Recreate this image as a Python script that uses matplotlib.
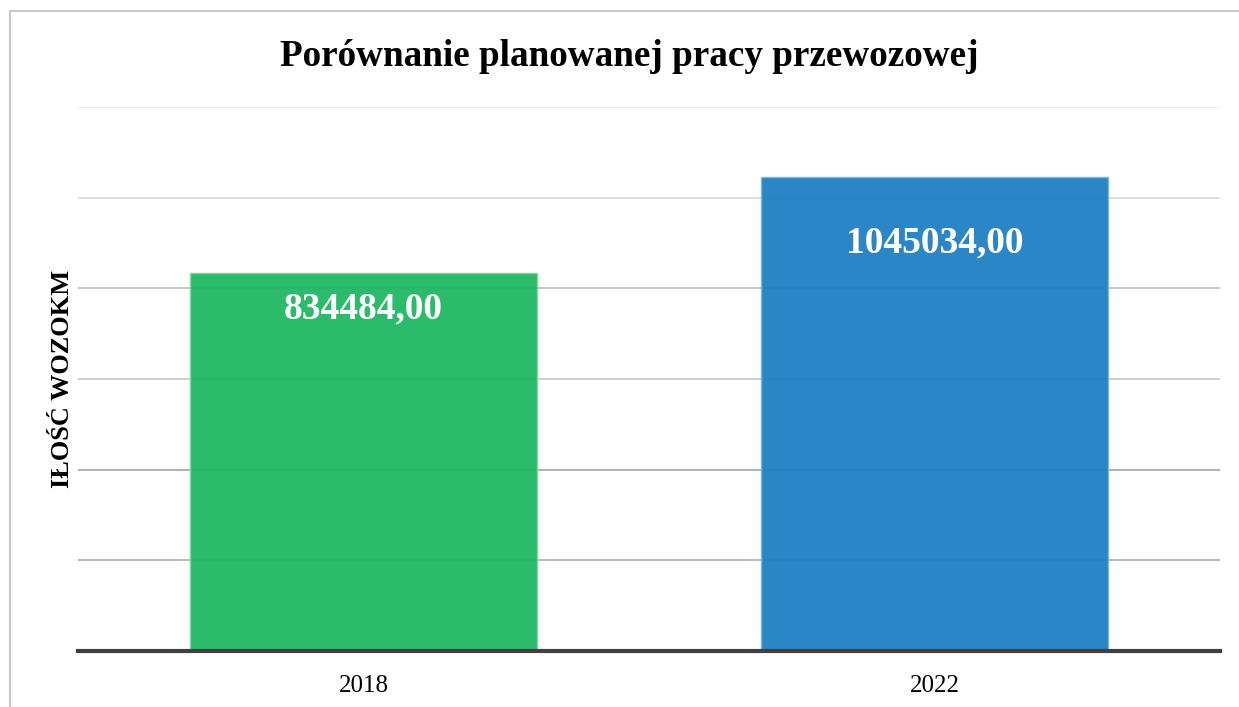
import matplotlib
matplotlib.use("Agg")
import matplotlib.pyplot as plt
from matplotlib.lines import Line2D

years = ["2018", "2022"]
values = [834484.00, 1045034.00]
bar_colors = ["#22b865", "#2181c4"]
edge_colors = ["#7fd6a3", "#7db6e2"]
label_offsets = [-26, -47]  # points below the bar top
grid_levels = [200000, 400000, 600000, 800000, 1000000, 1200000]
grid_colors = ["#b4b4b4", "#aaaaaa", "#cacaca", "#c2c2c2", "#dadada", "#e6e6e6"]

plt.rcParams["font.family"] = ["Liberation Serif", "DejaVu Serif"]

fig = plt.figure(figsize=(12.39, 7.07), dpi=100)
ax = fig.add_axes([78 / 1239, 56 / 707, 1142 / 1239, 544 / 707])

ax.set_xlim(-0.5, 1.5)
ax.set_ylim(0, 1200000)

for lvl, c in zip(grid_levels, grid_colors):
    ax.axhline(lvl, color=c, linewidth=1.3, zorder=1)

x = list(range(len(years)))
bars = ax.bar(x, values, width=0.608, color=bar_colors, edgecolor=edge_colors,
              linewidth=1.0, alpha=0.96, zorder=2)

for xi, v, off in zip(x, values, label_offsets):
    label = f"{v:.2f}".replace(".", ",")
    ax.annotate(label, xy=(xi, v), xytext=(0, off), textcoords="offset points",
                ha="center", va="center", color="white", fontsize=27,
                fontweight="bold", zorder=4)

ax.axhline(0, color="#404040", linewidth=3.0, zorder=3, clip_on=False)

for s in ax.spines.values():
    s.set_visible(False)
ax.set_yticks([])
ax.set_xticks(x)
ax.set_xticklabels(years, fontsize=18)
ax.tick_params(axis="x", length=0, pad=17)

ax.set_ylabel("IŁOŚĆ WOZOKM", fontsize=19, fontweight="bold", labelpad=3)

fig.text(629 / 1239, 1 - 57 / 707, "Porównanie planowanej pracy przewozowej",
         ha="center", va="center", fontsize=26.7, fontweight="bold")

# outer frame (left and top edges)
fig.add_artist(Line2D([10 / 1239, 10 / 1239], [0, 1 - 11 / 707],
                      color="#c8c8c8", linewidth=1.5, transform=fig.transFigure))
fig.add_artist(Line2D([10 / 1239, 1], [1 - 11 / 707, 1 - 11 / 707],
                      color="#c8c8c8", linewidth=1.5, transform=fig.transFigure))

fig.savefig("out.png", dpi=100, facecolor="white")
